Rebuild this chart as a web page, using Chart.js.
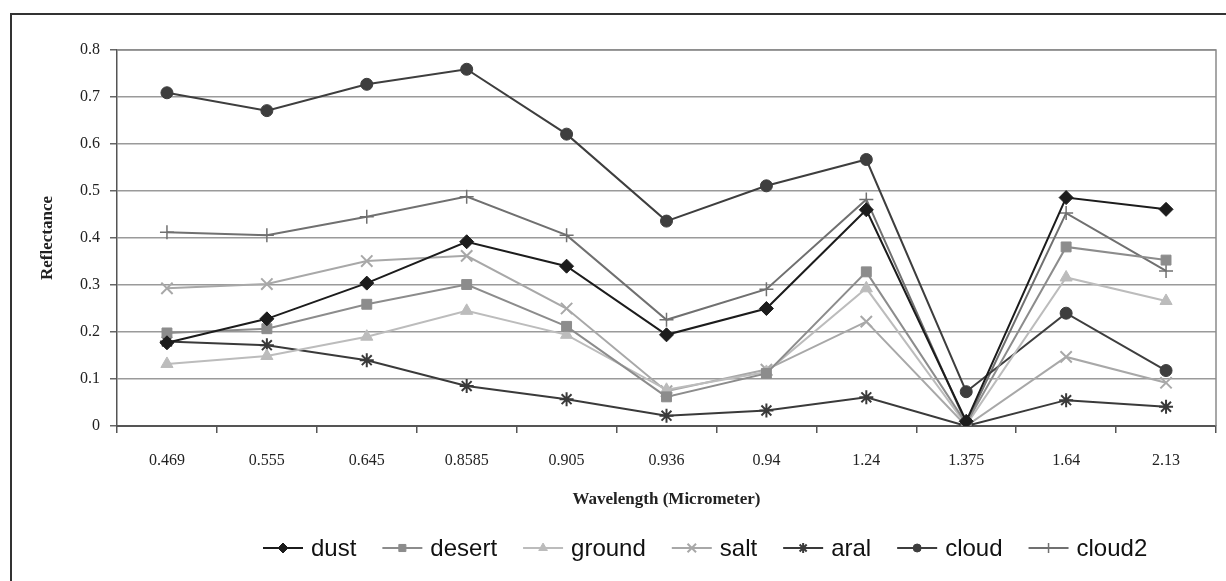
<!DOCTYPE html>
<html>
<head>
<meta charset="utf-8">
<script src="https://cdn.jsdelivr.net/npm/chart.js@4/dist/chart.umd.min.js"></script>
<style>
  html, body { margin: 0; padding: 0; background: #ffffff; }
  #wrap { width: 1226px; height: 581px; position: relative; }
</style>
</head>
<body>
<div id="wrap"><canvas id="c"></canvas></div>
<script>
const categories = ['0.469', '0.555', '0.645', '0.8585', '0.905', '0.936', '0.94', '1.24', '1.375', '1.64', '2.13'];
const dust   = [0.177, 0.228, 0.304, 0.392, 0.340, 0.194, 0.250, 0.460, 0.010, 0.486, 0.461];
const desert = [0.198, 0.207, 0.259, 0.301, 0.212, 0.062, 0.112, 0.328, 0.005, 0.381, 0.353];
const ground = [0.132, 0.149, 0.190, 0.245, 0.194, 0.077, 0.115, 0.293, 0.002, 0.316, 0.266];
const salt   = [0.293, 0.302, 0.351, 0.362, 0.250, 0.074, 0.120, 0.222, 0.000, 0.147, 0.092];
const aral   = [0.180, 0.172, 0.140, 0.085, 0.057, 0.022, 0.033, 0.061, 0.000, 0.055, 0.041];
const cloud  = [0.709, 0.671, 0.727, 0.759, 0.621, 0.436, 0.511, 0.567, 0.073, 0.240, 0.118];
const cloud2 = [0.412, 0.406, 0.445, 0.488, 0.406, 0.226, 0.291, 0.482, 0.005, 0.453, 0.330];
const yTicks = ['0', '0.1', '0.2', '0.3', '0.4', '0.5', '0.6', '0.7', '0.8'];

const seriesDefs = [
  { label: 'dust',   data: dust,   color: '#1c1c1c', style: 'rectRot',  r: 7, bw: 1 },
  { label: 'desert', data: desert, color: '#8c8c8c', style: 'rect',     r: 7, bw: 1 },
  { label: 'ground', data: ground, color: '#bcbcbc', style: 'triangle', r: 7, bw: 1 },
  { label: 'salt',   data: salt,   color: '#a8a8a8', style: 'crossRot', r: 8, bw: 2 },
  { label: 'aral',   data: aral,   color: '#3a3a3a', style: 'star',     r: 7, bw: 2 },
  { label: 'cloud',  data: cloud,  color: '#3e3e3e', style: 'circle',   r: 6, bw: 1 },
  { label: 'cloud2', data: cloud2, color: '#707070', style: 'cross',    r: 7, bw: 1.5 }
];

const datasets = seriesDefs.map(s => ({
  label: s.label,
  data: s.data,
  borderColor: s.color,
  backgroundColor: s.color,
  borderWidth: 2,
  pointStyle: s.style,
  pointRadius: s.r,
  pointBorderWidth: s.bw,
  pointBackgroundColor: s.color,
  pointBorderColor: s.color,
  tension: 0,
  fill: false
}));

const framePlugin = {
  id: 'frame',
  beforeDraw(chart) {
    const ctx = chart.ctx;
    ctx.save();
    ctx.fillStyle = '#ffffff';
    ctx.fillRect(0, 0, chart.width, chart.height);
    ctx.strokeStyle = '#333333';
    ctx.lineWidth = 2;
    ctx.beginPath();
    ctx.moveTo(11, chart.height + 2);
    ctx.lineTo(11, 14);
    ctx.lineTo(chart.width + 2, 14);
    ctx.stroke();
    ctx.restore();
  },
  afterDraw(chart) {
    const ctx = chart.ctx;
    const a = chart.chartArea;
    ctx.save();
    ctx.strokeStyle = '#8a8a8a';
    ctx.lineWidth = 1.5;
    ctx.beginPath();
    ctx.moveTo(a.left, a.top);
    ctx.lineTo(a.right, a.top);
    ctx.lineTo(a.right, a.bottom);
    ctx.stroke();

    // legend: line with marker, then text
    const y = 548;
    let x = 263;
    ctx.font = '24px "Liberation Sans", Arial, sans-serif';
    ctx.textBaseline = 'middle';
    ctx.textAlign = 'left';
    seriesDefs.forEach(s => {
      ctx.strokeStyle = s.color;
      ctx.lineWidth = 2;
      ctx.beginPath();
      ctx.moveTo(x, y);
      ctx.lineTo(x + 40, y);
      ctx.stroke();
      ctx.fillStyle = s.color;
      ctx.strokeStyle = s.color;
      ctx.lineWidth = s.bw;
      Chart.helpers.drawPoint(ctx, { pointStyle: s.style, radius: Math.max(4, s.r - 2), borderWidth: s.bw, rotation: 0 }, x + 20, y);
      x += 48;
      ctx.fillStyle = '#111111';
      ctx.fillText(s.label, x, y + 1);
      x += ctx.measureText(s.label).width + 26;
    });
    ctx.restore();
  }
};

new Chart(document.getElementById('c'), {
  type: 'line',
  data: { labels: categories, datasets },
  options: {
    responsive: true,
    maintainAspectRatio: false,
    animation: false,
    devicePixelRatio: 1,
    layout: { padding: { left: 0, top: 50, right: 8, bottom: 55 } },
    plugins: {
      legend: { display: false },
      tooltip: { enabled: false }
    },
    scales: {
      x: {
        type: 'category',
        offset: true,
        grid: {
          offset: true,
          drawOnChartArea: false,
          drawTicks: true,
          tickLength: 7,
          color: '#555555',
          lineWidth: 1.5
        },
        border: { display: true, color: '#555555', width: 2 },
        ticks: {
          color: '#222222',
          padding: 18,
          maxRotation: 0,
          autoSkip: false,
          font: { family: '"Liberation Serif", "Times New Roman", serif', size: 16 }
        },
        title: {
          display: true,
          text: 'Wavelength (Micrometer)',
          color: '#222222',
          font: { family: '"Liberation Serif", "Times New Roman", serif', size: 17, weight: 'bold' },
          padding: { top: 0, bottom: 16 }
        },
        afterFit(scale) { scale.height = 100; }
      },
      y: {
        min: 0,
        max: 0.8,
        ticks: {
          stepSize: 0.1,
          color: '#222222',
          padding: 10,
          font: { family: '"Liberation Serif", "Times New Roman", serif', size: 16 },
          callback: (v, i) => yTicks[i]
        },
        grid: {
          color: '#9a9a9a',
          lineWidth: 1.5,
          tickLength: 7,
          tickColor: '#666666'
        },
        border: { display: true, color: '#555555', width: 1.5 },
        title: {
          display: true,
          text: 'Reflectance',
          color: '#222222',
          font: { family: '"Liberation Serif", "Times New Roman", serif', size: 17, weight: 'bold' },
          padding: { top: 37, bottom: 0 }
        },
        afterFit(scale) { scale.width = 117; }
      }
    }
  },
  plugins: [framePlugin]
});
</script>
</body>
</html>
